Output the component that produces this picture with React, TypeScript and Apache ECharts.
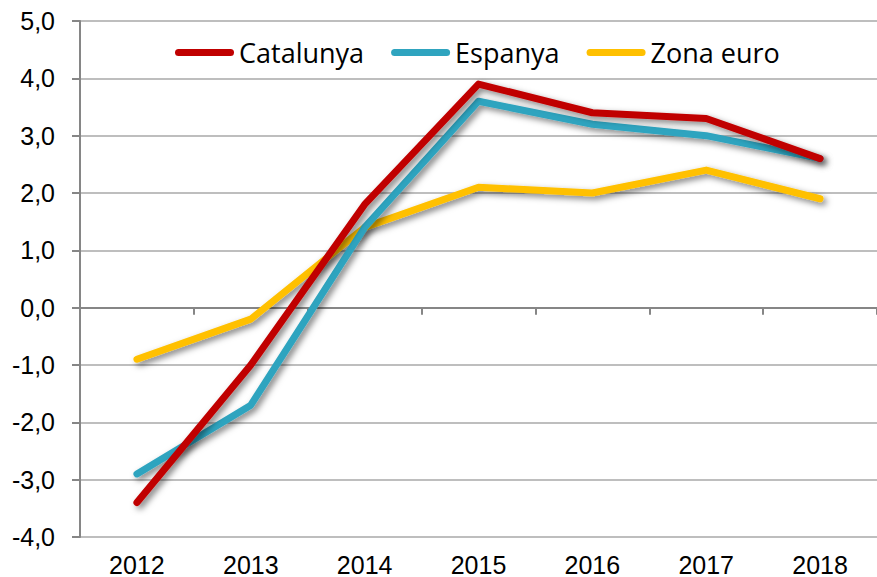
import React, { useEffect, useRef } from "react";
import * as echarts from "echarts";

const categories = ["2012", "2013", "2014", "2015", "2016", "2017", "2018"];
const catalunya = [-3.4, -1.0, 1.8, 3.9, 3.4, 3.3, 2.6];
const espanya = [-2.9, -1.7, 1.4, 3.6, 3.2, 3.0, 2.6];
const zonaEuro = [-0.9, -0.2, 1.4, 2.1, 2.0, 2.4, 1.9];
const seriesNames = ["Catalunya", "Espanya", "Zona euro"];
const seriesColors = ["#C00000", "#2FA4BF", "#FFC000"];

const capsule = "path://M3.5,0 H55.5 A3.5,3.5 0 0 1 55.5,7 H3.5 A3.5,3.5 0 0 1 3.5,0 Z";

export default function App() {
  const ref = useRef<HTMLDivElement>(null);
  useEffect(() => {
    const chart = echarts.init(ref.current!, undefined, { renderer: "svg" });
    const values = [catalunya, espanya, zonaEuro];
    chart.setOption({
      animation: false,
      grid: { left: 80, right: -2, top: 21, bottom: 40, containLabel: false },
      legend: {
        left: 170,
        top: 34,
        itemWidth: 59,
        itemHeight: 7,
        itemGap: 27,
        icon: capsule,
        textStyle: { fontFamily: "Open Sans", fontSize: 27, color: "#000" },
        data: seriesNames,
      },
      xAxis: [
        {
          type: "category",
          data: categories,
          position: "bottom",
          axisLine: { show: false, onZero: false },
          axisTick: { show: false },
          axisLabel: { fontFamily: "Liberation Sans", fontSize: 25, color: "#000", margin: 15 },
        },
        {
          type: "category",
          data: categories,
          position: "bottom",
          axisLine: { show: true, onZero: true, lineStyle: { color: "#868686", width: 2 } },
          axisTick: { show: true, length: 7, lineStyle: { color: "#868686", width: 2 } },
          axisLabel: { show: false },
        },
      ],
      yAxis: {
        type: "value",
        min: -4,
        max: 5,
        interval: 1,
        axisLine: { show: true, lineStyle: { color: "#868686", width: 2 } },
        axisTick: { show: true, length: 8, lineStyle: { color: "#868686", width: 2 } },
        splitLine: { show: true, lineStyle: { color: "#BEBEBE", width: 2 } },
        axisLabel: {
          fontFamily: "Liberation Sans",
          fontSize: 25,
          color: "#000",
          margin: 25,
          formatter: (v: number) => v.toFixed(1).replace(".", ","),
        },
      },
      series: seriesNames.map((name, i) => ({
        name,
        type: "line",
        data: values[i],
        symbol: "none",
        color: seriesColors[i],
        lineStyle: {
          color: seriesColors[i],
          width: 7,
          cap: "round",
          join: "round",
          shadowColor: "rgba(0,0,0,0.5)",
          shadowBlur: 6,
          shadowOffsetX: 3,
          shadowOffsetY: 3,
        },
        z: 3 - i,
      })),
    });
    return () => chart.dispose();
  }, []);
  return (
    <div
      ref={ref}
      style={{ position: "absolute", left: 0, top: 0, width: 877, height: 577, background: "#fff" }}
    />
  );
}
